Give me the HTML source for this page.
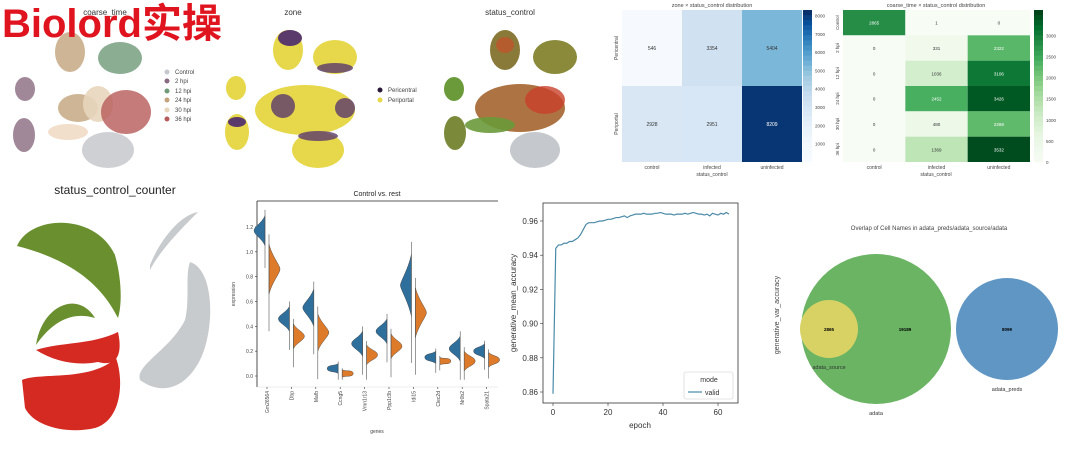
<!DOCTYPE html>
<html><head><meta charset="utf-8"><style>
html,body{margin:0;padding:0;background:#fff;}
svg{display:block;font-family:"Liberation Sans","Noto Sans CJK SC",sans-serif;}
</style></head><body>
<svg id="s" width="1080" height="460" viewBox="0 0 1080 460">
<g>
<text x="105" y="15" font-size="8" text-anchor="middle" fill="#333">coarse_time</text>
<ellipse cx="70" cy="52" rx="15" ry="20" fill="#c2a37a" opacity=".8"/>
<ellipse cx="120" cy="58" rx="22" ry="16" fill="#6e9a78" opacity=".8"/>
<ellipse cx="25" cy="89" rx="10" ry="12" fill="#8a6a80" opacity=".8"/>
<ellipse cx="24" cy="135" rx="11" ry="17" fill="#8a6a80" opacity=".8"/>
<ellipse cx="78" cy="108" rx="20" ry="14" fill="#c2a37a" opacity=".8"/>
<ellipse cx="98" cy="104" rx="15" ry="18" fill="#e8d6bc" opacity=".9"/>
<ellipse cx="126" cy="112" rx="25" ry="22" fill="#b85a5a" opacity=".8"/>
<ellipse cx="68" cy="132" rx="20" ry="8" fill="#efdcc6" opacity=".9"/>
<ellipse cx="108" cy="150" rx="26" ry="18" fill="#c5c8cc" opacity=".85"/>
<g font-size="6" fill="#444">
<circle cx="167" cy="72" r="2.5" fill="#c5c8cc"/><text x="175" y="74">Control</text>
<circle cx="167" cy="81" r="2.5" fill="#8a6a80"/><text x="175" y="83">2 hpi</text>
<circle cx="167" cy="91" r="2.5" fill="#6e9a78"/><text x="175" y="93">12 hpi</text>
<circle cx="167" cy="100" r="2.5" fill="#c2a37a"/><text x="175" y="102">24 hpi</text>
<circle cx="167" cy="110" r="2.5" fill="#e8d6bc"/><text x="175" y="112">30 hpi</text>
<circle cx="167" cy="119" r="2.5" fill="#b85a5a"/><text x="175" y="121">36 hpi</text>
</g></g>
<text x="2" y="37" font-size="40" font-weight="bold" fill="#e0141e">Biolord实操</text>
<g>
<text x="293" y="15" font-size="8" text-anchor="middle" fill="#333">zone</text>
<ellipse cx="288" cy="50" rx="15" ry="20" fill="#e6d84a"/><ellipse cx="290" cy="38" rx="12" ry="8" fill="#5a3a6a"/>
<ellipse cx="335" cy="57" rx="22" ry="17" fill="#e6d84a"/><ellipse cx="335" cy="68" rx="18" ry="5" fill="#5a3a6a" opacity=".8"/>
<ellipse cx="236" cy="88" rx="10" ry="12" fill="#e6d84a"/>
<ellipse cx="237" cy="132" rx="12" ry="18" fill="#e6d84a"/><ellipse cx="237" cy="122" rx="9" ry="5" fill="#5a3a6a"/>
<ellipse cx="305" cy="110" rx="50" ry="25" fill="#e6d84a"/>
<ellipse cx="283" cy="106" rx="12" ry="12" fill="#5a3a6a" opacity=".8"/>
<ellipse cx="345" cy="108" rx="10" ry="10" fill="#5a3a6a" opacity=".8"/>
<ellipse cx="318" cy="150" rx="26" ry="18" fill="#e6d84a"/><ellipse cx="318" cy="136" rx="20" ry="5" fill="#5a3a6a" opacity=".8"/>
<circle cx="380" cy="90" r="2.5" fill="#2a1a3a"/><text x="388" y="92" font-size="6" fill="#444">Pericentral</text>
<circle cx="380" cy="100" r="2.5" fill="#e6d84a"/><text x="388" y="102" font-size="6" fill="#444">Periportal</text>
</g>
<g>
<text x="510" y="15" font-size="8" text-anchor="middle" fill="#333">status_control</text>
<ellipse cx="505" cy="50" rx="15" ry="20" fill="#8a7a3a"/><ellipse cx="505" cy="45" rx="9" ry="8" fill="#c8502a" opacity=".7"/>
<ellipse cx="555" cy="57" rx="22" ry="17" fill="#8a8a3a"/>
<ellipse cx="454" cy="89" rx="10" ry="12" fill="#6a9a3a"/>
<ellipse cx="455" cy="133" rx="11" ry="17" fill="#7a8a3a"/>
<ellipse cx="520" cy="108" rx="45" ry="24" fill="#a4642e" opacity=".9"/>
<ellipse cx="545" cy="100" rx="20" ry="14" fill="#c8402a" opacity=".8"/>
<ellipse cx="490" cy="125" rx="25" ry="8" fill="#6a9a3a" opacity=".9"/>
<ellipse cx="535" cy="150" rx="25" ry="18" fill="#c5c8cc"/>
</g>
<g id="hm1"></g>
<g id="hm2"></g>
<g>
<text x="115" y="194" font-size="12" text-anchor="middle" fill="#222">status_control_counter</text>
<path d="M17,246 C30,215 95,212 115,255 C122,280 122,305 118,318 C105,292 80,262 17,246 Z" fill="#6a8f2e"/>
<path d="M36,345 C42,305 78,290 95,318 C75,312 55,318 36,345 Z" fill="#6a8f2e"/>
<path d="M36,350 C60,342 92,345 118,332 C122,350 120,368 98,362 C78,366 55,362 36,350 Z" fill="#d42a22"/>
<path d="M22,380 C40,372 90,382 116,358 C124,380 122,420 95,428 C70,434 35,428 25,408 Z" fill="#d42a22"/>
<path d="M150,265 C160,240 180,215 198,212 C185,225 160,250 150,270 Z" fill="#c8cbce"/>
<path d="M190,262 C215,270 215,330 200,360 C185,390 160,395 140,380 C135,365 170,350 185,320 C190,300 185,275 190,262 Z" fill="#c8cbce"/>
</g>
<g id="violin"></g>
<g id="line"></g>
<g>
<text x="929" y="230" font-size="6" text-anchor="middle" fill="#444">Overlap of Cell Names in adata_preds/adata_source/adata</text>
<text transform="translate(779,315) rotate(-90)" font-size="7" text-anchor="middle" fill="#444">generative_var_accuracy</text>
<circle cx="876" cy="329" r="75" fill="#6ab464"/>
<circle cx="829" cy="329" r="29" fill="#d8d264"/>
<circle cx="1007" cy="329" r="51" fill="#5f96c4"/>
<text x="829" y="331" font-size="4.5" text-anchor="middle" font-weight="bold">2865</text>
<text x="905" y="331" font-size="4.5" text-anchor="middle" font-weight="bold">19189</text>
<text x="1007" y="331" font-size="4.5" text-anchor="middle" font-weight="bold">8099</text>
<text x="829" y="369" font-size="5.5" text-anchor="middle" fill="#333">adata_source</text>
<text x="876" y="415" font-size="5.5" text-anchor="middle" fill="#333">adata</text>
<text x="1007" y="391" font-size="5.5" text-anchor="middle" fill="#333">adata_preds</text>
</g>
</svg>
<script>
const NS="http://www.w3.org/2000/svg";
function mk(p,t,a,txt){const e=document.createElementNS(NS,t);for(const k in a)e.setAttribute(k,a[k]);if(txt!==undefined)e.textContent=txt;p.appendChild(e);return e;}
function lerp(c1,c2,t){return 'rgb('+c1.map((v,i)=>Math.round(v+(c2[i]-v)*t)).join(',')+')';}
function ramp(stops,t){t=Math.max(0,Math.min(1,t));const n=stops.length-1;const i=Math.min(n-1,Math.floor(t*n));return lerp(stops[i],stops[i+1],t*n-i);}

const hm1Rows=["Pericentral","Periportal"];
const hm1Cols=["control","infected","uninfected"];
const hm1Vals=[[546,3354,5404],[2928,2951,8209]];
const hm1Max=8300;
const blues=[[247,251,255],[222,235,247],[198,219,239],[158,202,225],[107,174,214],[66,146,198],[33,113,181],[8,81,156],[8,48,107]];
(function(){
 const g=document.getElementById('hm1');const x0=622,x1=802,y0=10,y1=162;
 const cw=(x1-x0)/hm1Cols.length,ch=(y1-y0)/hm1Rows.length;
 mk(g,'text',{x:712,y:7,'font-size':5.5,'text-anchor':'middle',fill:'#444'},'zone × status_control distribution');
 hm1Vals.forEach((row,r)=>row.forEach((v,c)=>{
  const t=Math.pow(v/hm1Max,1.8);
  const cell=mk(g,'rect',{x:x0+c*cw,y:y0+r*ch,width:cw,height:ch,fill:ramp(blues,t)});
  
  
  mk(g,'text',{x:x0+c*cw+cw/2,y:y0+r*ch+ch/2+2,'font-size':5,'text-anchor':'middle',fill:t>0.6?'#fff':'#333'},v);
 }));
 hm1Rows.forEach((n,r)=>mk(g,'text',{transform:`translate(${x0-4},${y0+r*ch+ch/2}) rotate(-90)`,'font-size':5,'text-anchor':'middle',fill:'#444'},n));
 hm1Cols.forEach((n,c)=>mk(g,'text',{x:x0+c*cw+cw/2,y:y1+7,'font-size':5,'text-anchor':'middle',fill:'#444'},n));
 mk(g,'text',{x:712,y:y1+14,'font-size':5,'text-anchor':'middle',fill:'#444'},'status_control');
 for(let i=0;i<30;i++)mk(g,'rect',{x:803,y:y0+i*(y1-y0)/30,width:9,height:(y1-y0)/30+0.5,fill:ramp(blues,Math.pow(1-i/30,1.8))});
 [1000,2000,3000,4000,5000,6000,7000,8000].forEach(v=>mk(g,'text',{x:815,y:y1-(v/hm1Max)*(y1-y0)+2,'font-size':4.5,fill:'#444'},v));
})();

const hm2Rows=["Control","2 hpi","12 hpi","24 hpi","30 hpi","36 hpi"];
const hm2Cols=["control","infected","uninfected"];
const hm2Vals=[[2865,1,0],[0,331,2322],[0,1036,3106],[0,2452,3426],[0,480,2269],[0,1369,3532]];
const hm2Max=3600;
const greens=[[247,252,245],[229,245,224],[199,233,192],[161,217,155],[116,196,118],[65,171,93],[35,139,69],[0,109,44],[0,68,27]];
(function(){
 const g=document.getElementById('hm2');const x0=843,x1=1030,y0=10,y1=162;
 const cw=(x1-x0)/hm2Cols.length,ch=(y1-y0)/hm2Rows.length;
 mk(g,'text',{x:936,y:7,'font-size':5.5,'text-anchor':'middle',fill:'#444'},'coarse_time × status_control distribution');
 hm2Vals.forEach((row,r)=>row.forEach((v,c)=>{
  const t=Math.pow(v/hm2Max,1.3);
  const cell=mk(g,'rect',{x:x0+c*cw,y:y0+r*ch,width:cw,height:ch,fill:ramp(greens,t)});
  
  
  mk(g,'text',{x:x0+c*cw+cw/2,y:y0+r*ch+ch/2+2,'font-size':4.5,'text-anchor':'middle',fill:t>0.5?'#fff':'#333'},v);
 }));
 hm2Rows.forEach((n,r)=>mk(g,'text',{transform:`translate(${x0-4},${y0+r*ch+ch/2}) rotate(-90)`,'font-size':4.5,'text-anchor':'middle',fill:'#444'},n));
 hm2Cols.forEach((n,c)=>mk(g,'text',{x:x0+c*cw+cw/2,y:y1+7,'font-size':5,'text-anchor':'middle',fill:'#444'},n));
 mk(g,'text',{x:936,y:y1+14,'font-size':5,'text-anchor':'middle',fill:'#444'},'status_control');
 for(let i=0;i<30;i++)mk(g,'rect',{x:1034,y:y0+i*(y1-y0)/30,width:9,height:(y1-y0)/30+0.5,fill:ramp(greens,Math.pow(1-i/30,1.3))});
 [0,500,1000,1500,2000,2500,3000].forEach(v=>mk(g,'text',{x:1046,y:y1-(v/hm2Max)*(y1-y0)+2,'font-size':4.5,fill:'#444'},v));
})();

const genes=["Gm26564","Dbp","Mafb","Ccng5","Vmn1r13","Ppp1r3b","Idi15","Clec2d","Nr0b2","Spata21"];
const ctrlMed=[1.17,0.46,0.55,0.06,0.26,0.36,0.73,0.15,0.22,0.20];
const restMed=[0.86,0.32,0.35,0.02,0.17,0.24,0.51,0.12,0.12,0.13];
const ctrlSpread=[0.12,0.10,0.15,0.04,0.10,0.10,0.25,0.05,0.10,0.06];
const restSpread=[0.20,0.10,0.15,0.03,0.08,0.10,0.20,0.03,0.08,0.06];
const vTicks=[0,0.2,0.4,0.6,0.8,1.0,1.2];
(function(){
 const g=document.getElementById('violin');
 const ax0=257,ax1=498,ay0=201,ay1=387;
 const Y=v=>376-v*124.2; const X=i=>267+i*24.4;
 mk(g,'text',{x:377,y:196,'font-size':7,'text-anchor':'middle',fill:'#222'},'Control vs. rest');
 mk(g,'line',{x1:ax0,y1:ay0,x2:ax1,y2:ay0,stroke:'#222','stroke-width':0.8});
 mk(g,'line',{x1:ax0,y1:ay0,x2:ax0,y2:ay1,stroke:'#222','stroke-width':0.8});
 mk(g,'line',{x1:ax0,y1:ay1,x2:ax1,y2:ay1,stroke:'#ddd','stroke-width':0.6});
 vTicks.forEach(t=>{mk(g,'line',{x1:ax0-2,y1:Y(t),x2:ax0,y2:Y(t),stroke:'#333','stroke-width':0.6});mk(g,'text',{x:ax0-4,y:Y(t)+2,'font-size':5,'text-anchor':'end',fill:'#444'},t.toFixed(1));});
 mk(g,'text',{transform:'translate(235,294) rotate(-90)','font-size':5,'text-anchor':'middle',fill:'#444'},'expression');
 function half(cx,med,sp,dir,col,name){
  const top=Y(med+sp),bot=Y(med-sp),m=Y(med),w=11*dir;
  const p=mk(g,'path',{d:`M${cx},${top} C${cx+w*0.3},${top+(m-top)*0.5} ${cx+w},${m-4} ${cx+w},${m} C${cx+w},${m+4} ${cx+w*0.3},${bot-(bot-m)*0.5} ${cx},${bot} Z`,fill:col,stroke:'#333','stroke-width':0.4});
  
  
  mk(g,'line',{x1:cx,y1:Y(med+sp*1.4),x2:cx,y2:Y(Math.max(-0.03,med-sp*2.5)),stroke:'#555','stroke-width':0.6});
 }
 genes.forEach((n,i)=>{
  half(X(i)-2,ctrlMed[i],ctrlSpread[i],-1,'#2f6f9c','violin-control');
  half(X(i)+2,restMed[i],restSpread[i],1,'#dd7b2a','violin-rest');
  mk(g,'line',{x1:X(i),y1:ay1,x2:X(i),y2:ay1+2,stroke:'#333','stroke-width':0.6});
  mk(g,'text',{transform:`translate(${X(i)+2},${ay1+4}) rotate(-90)`,'font-size':5,'text-anchor':'end',fill:'#444'},n);
 });
 mk(g,'text',{x:377,y:433,'font-size':5,'text-anchor':'middle',fill:'#444'},'genes');
})();

const epochs=[];for(let i=0;i<=64;i++)epochs.push(i);
const accVals=[0.859,0.944,0.946,0.946,0.947,0.947,0.948,0.948,0.949,0.950,0.952,0.955,0.958,0.959,0.959,0.959,0.9595,0.960,0.960,0.9605,0.961,0.961,0.9615,0.962,0.962,0.9625,0.963,0.962,0.963,0.9635,0.964,0.964,0.964,0.9645,0.964,0.964,0.964,0.9645,0.9645,0.965,0.9645,0.964,0.964,0.964,0.9635,0.964,0.964,0.964,0.9645,0.964,0.9645,0.965,0.9645,0.964,0.964,0.9635,0.964,0.963,0.9645,0.964,0.9635,0.9645,0.964,0.965,0.964];
const lxTicks=[0,20,40,60];
const lyTicks=[0.86,0.88,0.90,0.92,0.94,0.96];
(function(){
 const g=document.getElementById('line');
 const ax0=543,ax1=738,ay0=203,ay1=403;
 const X=e=>553+e*2.75; const Y=v=>392-(v-0.86)*1710;
 mk(g,'rect',{x:ax0,y:ay0,width:ax1-ax0,height:ay1-ay0,fill:'none',stroke:'#333','stroke-width':0.8});
 lyTicks.forEach(t=>{mk(g,'line',{x1:ax0-3,y1:Y(t),x2:ax0,y2:Y(t),stroke:'#333','stroke-width':0.6});mk(g,'text',{x:ax0-5,y:Y(t)+3,'font-size':8,'text-anchor':'end',fill:'#333'},t.toFixed(2));});
 lxTicks.forEach(t=>{mk(g,'line',{x1:X(t),y1:ay1,x2:X(t),y2:ay1+3,stroke:'#333','stroke-width':0.6});mk(g,'text',{x:X(t),y:ay1+12,'font-size':8,'text-anchor':'middle',fill:'#333'},t);});
 mk(g,'text',{x:640,y:428,'font-size':8,'text-anchor':'middle',fill:'#333'},'epoch');
 mk(g,'text',{transform:'translate(516,303) rotate(-90)','font-size':8,'text-anchor':'middle',fill:'#333'},'generative_mean_accuracy');
 const pl=mk(g,'polyline',{points:epochs.map((e,i)=>X(e)+','+Y(accVals[i])).join(' '),fill:'none',stroke:'#4a8aa8','stroke-width':1.2});
 
 
 const lg=mk(g,'g',{});
 
 
 mk(lg,'rect',{x:684,y:372,width:49,height:27,fill:'#fff',stroke:'#ccc','stroke-width':0.6,rx:2});
 mk(lg,'text',{x:709,y:382,'font-size':7,'text-anchor':'middle',fill:'#333'},'mode');
 mk(lg,'line',{x1:688,y1:392,x2:702,y2:392,stroke:'#4a8aa8','stroke-width':1.2});
 mk(lg,'text',{x:705,y:395,'font-size':7,fill:'#333'},'valid');
})();
</script>
</body></html>
